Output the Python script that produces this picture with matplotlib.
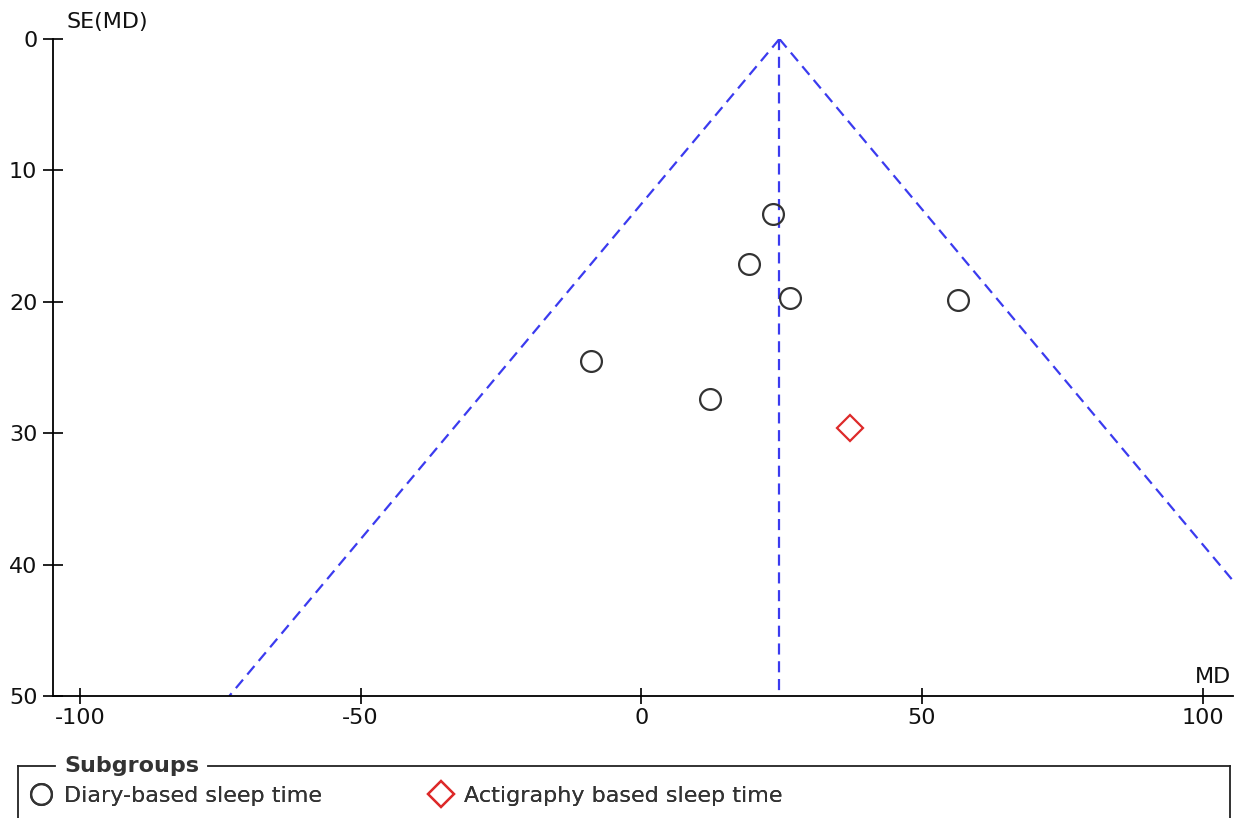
#!/usr/bin/env python

import numpy as np
import matplotlib
matplotlib.use("Agg")
import matplotlib.pyplot as plt
from matplotlib.lines import Line2D

plt.rcParams.update({'font.size': 16, 'font.family': ['DejaVu Sans'],
                     'axes.unicode_minus': False})

###
### Data
###
diary_md = [23.4, 19.2, 26.4, 56.5, -9.0, 12.2]
diary_se = [13.3, 17.1, 19.7, 19.9, 24.5, 27.4]
acti_md  = [37.2]
acti_se  = [29.6]
pooled_md = 24.6
se_max    = 50

xticks = [-100, -50, 0, 50, 100]
yticks = [0, 10, 20, 30, 40, 50]

W, H = 1234, 818
fig = plt.figure(figsize=(W/100, H/100), dpi=100)
ax = fig.add_axes([52.7/W, 1-696/H, (1233-52.7)/W, (696-39)/H])

###
### Funnel lines
###
blue = '#3b3bef'
se = np.array([0, se_max])
dash = dict(color=blue, lw=1.6, dashes=(5, 3))
ax.plot([pooled_md, pooled_md], se, **dash)
ax.plot(pooled_md - 1.96*se, se, **dash)
ax.plot(pooled_md + 1.96*se, se, **dash)

###
### Studies
###
h1, = ax.plot(diary_md, diary_se, ls='none', marker='o', ms=15, mfc='none',
              mec='#333333', mew=1.6, label='Diary-based sleep time', zorder=3)
h2, = ax.plot(acti_md, acti_se, ls='none', marker='D', ms=13, mfc='none',
              mec='#dd2a2a', mew=1.6, label='Actigraphy based sleep time', zorder=3)

ax.set_xlim(-104.86, 105.4)
ax.set_ylim(50, 0)
ax.set_xticks(xticks)
ax.set_yticks(yticks)
ax.spines['top'].set_visible(False)
ax.spines['right'].set_visible(False)
for s in ['left', 'bottom']:
    ax.spines[s].set_linewidth(1.3)
ax.tick_params(axis='y', direction='inout', length=14, width=1.3, pad=4, colors='#111111')
ax.tick_params(axis='x', direction='inout', length=12, width=1.3, pad=3, colors='#111111')

fig.text(66/W, 1-22/H, 'SE(MD)', ha='left', va='center', color='#111111')
fig.text(1231/W, 1-677/H, 'MD', ha='right', va='center', color='#111111')

###
### Legend box
###
box_y = 1-766/H
lk = dict(color='#222222', lw=1.3, transform=fig.transFigure)
fig.add_artist(Line2D([18/W, 55/W], [box_y, box_y], **lk))
fig.add_artist(Line2D([208/W, 1230/W], [box_y, box_y], **lk))
fig.add_artist(Line2D([18/W, 18/W], [box_y, 0], **lk))
fig.add_artist(Line2D([1230/W, 1230/W], [box_y, 0], **lk))
fig.text(64/W, box_y, 'Subgroups', ha='left', va='center',
         fontweight='bold', color='#333333')
leg_kw = dict(loc='center left', frameon=False, handlelength=1.0, handletextpad=0.55,
              borderpad=0, borderaxespad=0, labelcolor='#333333')
for h, x0 in [(h1, 30), (h2, 430)]:
    fig.add_artist(fig.legend(handles=[h], bbox_to_anchor=(x0/W, 1-796/H), **leg_kw))

plt.savefig('out.png', dpi=100)
